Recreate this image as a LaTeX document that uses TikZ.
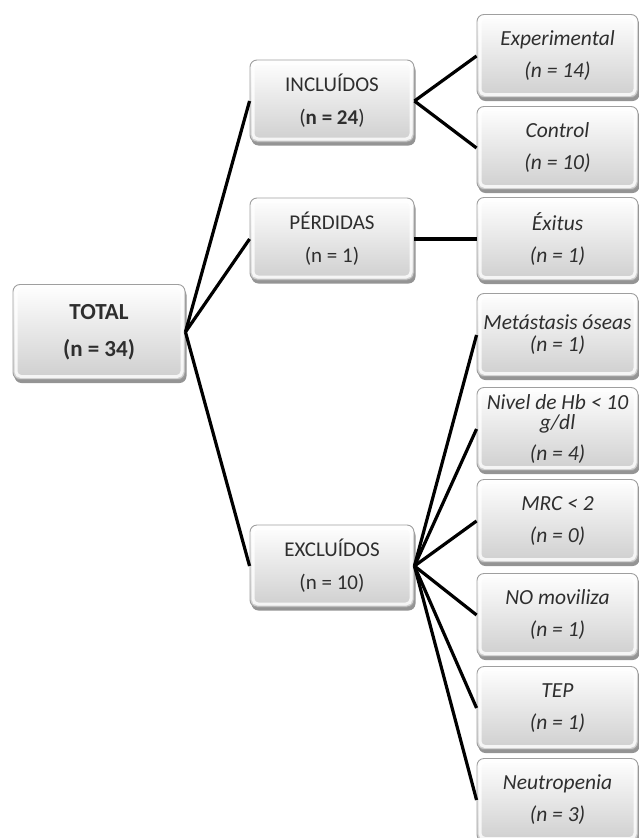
\documentclass[tikz,border=0pt]{standalone}
\usepackage{fontspec}
\setmainfont{Carlito}
\usetikzlibrary{shadows}
\tikzset{
  box/.style={rounded corners=7pt, draw=gray!75, line width=0.9pt,
    top color=white, bottom color=gray!38,
    drop shadow={shadow xshift=1.5pt, shadow yshift=-3.5pt, opacity=0.6, fill=black!70},
    align=center, font=\fontsize{21}{22}\selectfont, text=black!82, inner sep=1pt,
    path picture={\draw[white, line width=3pt, rounded corners=5pt, opacity=0.8]
      ([shift={(3pt,-3pt)}]path picture bounding box.north west) rectangle
      ([shift={(-3pt,3pt)}]path picture bounding box.south east);}},
  midbox/.style={box, minimum width=164pt, minimum height=82pt},
  rbox/.style={box, minimum width=161pt, minimum height=83pt, font=\fontsize{21.5}{22}\selectfont\itshape},
  link/.style={line width=3.2pt, black}
}
\begin{document}
\begin{tikzpicture}[x=1pt,y=1pt]
\useasboundingbox (0,0) rectangle (639,-838);
% nodes
\node[box, minimum width=172pt, minimum height=95pt, font=\fontsize{23}{24}\selectfont\bfseries] (total) at (99,-332) {TOTAL\\[13pt](n = 34)};
\node[midbox] (inc) at (332,-101) {INCLUÍDOS\\[11pt](\textbf{n = 24})};
\node[midbox] (per) at (332,-239) {PÉRDIDAS\\[11pt](n = 1)};
\node[midbox] (exc) at (332,-566) {EXCLUÍDOS\\[11pt](n = 10)};
\node[rbox] (r1) at (557.5,-56) {Experimental\\[10pt](n = 14)};
\node[rbox] (r2) at (557.5,-148) {Control\\[10pt](n = 10)};
\node[rbox] (r3) at (557.5,-239) {Éxitus\\[10pt](n = 1)};
\node[rbox] (r4) at (557.5,-335) {Metástasis óseas\\(n = 1)};
\node[rbox] (r5) at (557.5,-429) {Nivel de Hb < 10\\[-2pt]g/dl\\[9pt](n = 4)};
\node[rbox] (r6) at (557.5,-521) {MRC < 2\\[10pt](n = 0)};
\node[rbox] (r7) at (557.5,-615) {NO moviliza\\[10pt](n = 1)};
\node[rbox] (r8) at (557.5,-708) {TEP\\[10pt](n = 1)};
\node[rbox] (r9) at (557.5,-800) {Neutropenia\\[10pt](n = 3)};
% connectors
\draw[link] (total.east) -- (inc.west);
\draw[link] (total.east) -- (per.west);
\draw[link] (total.east) -- (exc.west);
\draw[link] (inc.east) -- (r1.west);
\draw[link] (inc.east) -- (r2.west);
\draw[link] (per.east) -- (r3.west);
\foreach \r in {r4,r5,r6,r7,r8,r9} \draw[link] (exc.east) -- (\r.west);
\end{tikzpicture}
\end{document}
